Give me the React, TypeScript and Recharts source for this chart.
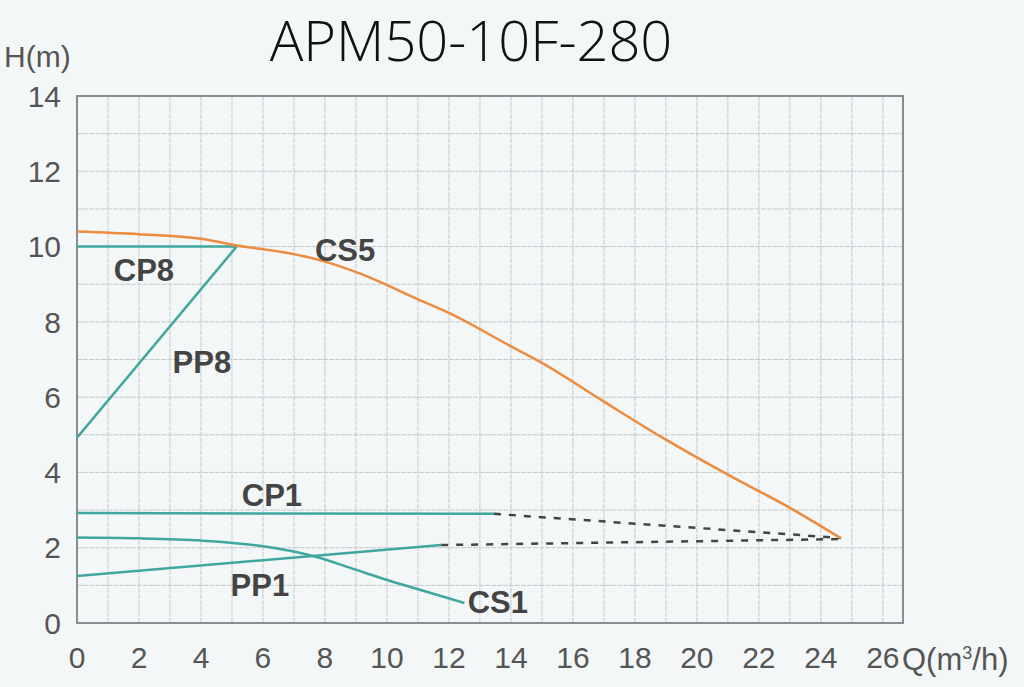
import { LineChart, Line, XAxis, YAxis, CartesianGrid, ReferenceArea, ReferenceDot, Label } from 'recharts';

// pump curves, Q in m3/h, H in m
const cs5Q = [0, 2, 4, 5.15, 7, 8, 9.2, 11, 12, 14, 15, 17, 19, 21, 23, 24.65];
const cs5H = [10.4, 10.33, 10.21, 10.03, 9.8, 9.6, 9.26, 8.6, 8.24, 7.35, 6.91, 5.88, 4.87, 3.94, 3.06, 2.25];

const cp8Q = [0, 5.15];
const cp8H = [10.0, 10.0];

const pp8Q = [0, 5.15];
const pp8H = [4.92, 10.0];

const cp1Q = [0, 13.45];
const cp1H = [2.92, 2.9];

const pp1Q = [0, 11.75];
const pp1H = [1.25, 2.07];

const cs1Q = [0, 2, 4, 5.9, 7.7, 8.8, 9.9, 11.2, 12.5];
const cs1H = [2.27, 2.25, 2.19, 2.05, 1.76, 1.47, 1.17, 0.85, 0.53];

// dashed extensions to the end of CS5
const cp1DashQ = [13.45, 24.65];
const cp1DashH = [2.9, 2.26];
const pp1DashQ = [11.75, 24.65];
const pp1DashH = [2.07, 2.23];

const xTicks = [0, 2, 4, 6, 8, 10, 12, 14, 16, 18, 20, 22, 24, 26];
const yTicks = [0, 2, 4, 6, 8, 10, 12, 14];

const curveNames = ['CP8', 'PP8', 'CS5', 'CP1', 'PP1', 'CS1'];
const nameQ = [2.16, 4.03, 8.65, 6.29, 5.9, 13.58];
const nameH = [9.39, 6.94, 9.92, 3.4, 1.01, 0.56];

const toPoints = (q: number[], h: number[]) => q.map((v, i) => ({ q: v, h: h[i] }));

const ORANGE = '#ED8B3E';
const TEAL = '#3FA79E';
const DASH = '#444';
const FONT = '"Liberation Sans", Arial, sans-serif';

const gridX = Array.from({ length: 27 }, (_, i) => i);
const gridY = Array.from({ length: 15 }, (_, i) => i);

const tickStyle = { fontSize: 30, fill: '#555', fontFamily: FONT };

const QLabel = (props: any) => {
  const { viewBox } = props;
  return (
    <text x={viewBox.x + viewBox.width - 1} y={viewBox.y + 47} fontSize={31} fill="#555" fontFamily={FONT}>
      Q(m
      <tspan dy={-11} fontSize={18}>3</tspan>
      <tspan dy={11}>/h)</tspan>
    </text>
  );
};

export default function App() {
  return (
    <div
      style={{
        position: 'absolute',
        left: 0,
        top: 0,
        width: 1024,
        height: 687,
        background: '#F4F7F8',
        overflow: 'hidden',
      }}
    >
      <div
        style={{
          position: 'absolute',
          left: 471,
          top: 11,
          transform: 'translateX(-50%)',
          fontFamily: '"Open Sans", sans-serif',
          fontWeight: 300,
          fontSize: 56,
          color: '#111',
          whiteSpace: 'nowrap',
          lineHeight: 1,
        }}
      >
        APM50-10F-280
      </div>
      <div
        style={{
          position: 'absolute',
          left: 4,
          top: 42,
          fontFamily: FONT,
          fontSize: 30,
          color: '#555',
          lineHeight: 1,
        }}
      >
        H(m)
      </div>
      <LineChart width={1024} height={687} margin={{ top: 96, right: 121, bottom: 0, left: 0 }}>
        <CartesianGrid
          stroke="#C6C9CB"
          strokeWidth={1}
          strokeDasharray="5 1"
          verticalValues={gridX}
          horizontalValues={gridY}
        />
        <XAxis
          type="number"
          dataKey="q"
          domain={[0, 26.65]}
          ticks={xTicks}
          allowDataOverflow
          height={64}
          tickLine={false}
          tickSize={0}
          tickMargin={24}
          axisLine={false}
          tick={tickStyle}
          label={<QLabel />}
        />
        <YAxis
          type="number"
          dataKey="h"
          domain={[0, 14]}
          ticks={yTicks}
          width={77}
          tickLine={false}
          tickSize={0}
          tickMargin={16}
          axisLine={false}
          tick={tickStyle}
        />
        <ReferenceArea x1={0} x2={26.65} y1={0} y2={14} fill="none" stroke="#8A8D8F" strokeWidth={2} />
        <Line data={toPoints(cp1DashQ, cp1DashH)} dataKey="h" stroke={DASH} strokeWidth={2.5} strokeDasharray="7 8" dot={false} isAnimationActive={false} />
        <Line data={toPoints(pp1DashQ, pp1DashH)} dataKey="h" stroke={DASH} strokeWidth={2.5} strokeDasharray="7 8" dot={false} isAnimationActive={false} />
        <Line data={toPoints(cp8Q, cp8H)} dataKey="h" stroke={TEAL} strokeWidth={2.5} dot={false} isAnimationActive={false} />
        <Line data={toPoints(pp8Q, pp8H)} dataKey="h" stroke={TEAL} strokeWidth={2.5} dot={false} isAnimationActive={false} />
        <Line data={toPoints(cp1Q, cp1H)} dataKey="h" stroke={TEAL} strokeWidth={2.5} dot={false} isAnimationActive={false} />
        <Line data={toPoints(pp1Q, pp1H)} dataKey="h" stroke={TEAL} strokeWidth={2.5} dot={false} isAnimationActive={false} />
        <Line data={toPoints(cs1Q, cs1H)} type="monotone" dataKey="h" stroke={TEAL} strokeWidth={2.5} dot={false} isAnimationActive={false} />
        <Line data={toPoints(cs5Q, cs5H)} type="monotone" dataKey="h" stroke={ORANGE} strokeWidth={2.5} dot={false} isAnimationActive={false} />
        {curveNames.map((name, i) => (
          <ReferenceDot key={name} x={nameQ[i]} y={nameH[i]} r={1} fill="none" stroke="none" ifOverflow="visible">
            <Label value={name} position="center" fill="#444" fontSize={31} fontWeight="bold" fontFamily={FONT} />
          </ReferenceDot>
        ))}
      </LineChart>
    </div>
  );
}
